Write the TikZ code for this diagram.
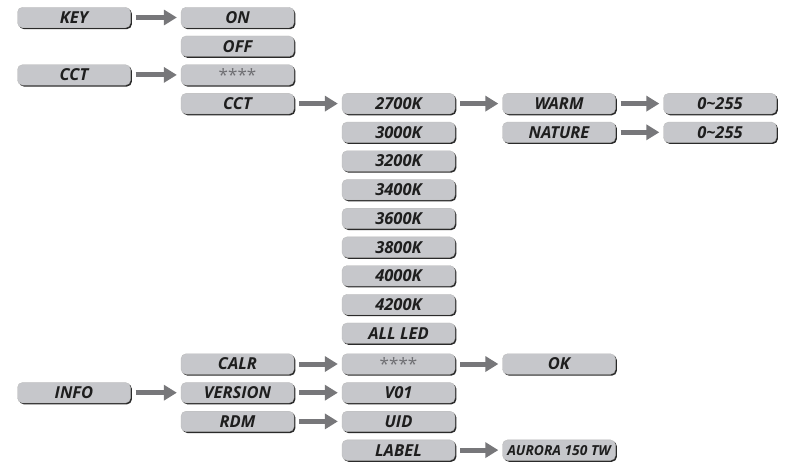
\documentclass[tikz,border=0pt]{standalone}
\usepackage{fontspec}
\setmainfont{Open Sans}
\usetikzlibrary{arrows.meta}
\definecolor{boxfill}{HTML}{C6C7CB}
\definecolor{boxedge}{HTML}{2A2A2A}
\definecolor{arrgray}{HTML}{77777A}
\definecolor{txt}{HTML}{1E1E1E}
\definecolor{stargray}{HTML}{6E6E72}
\tikzset{
  menubox/.style={rectangle, rounded corners=5pt, minimum width=113pt, minimum height=20.5pt,
    inner sep=0pt, fill=boxfill, draw=gray!55, line width=0.3pt, text=txt,
    font=\fontsize{16.5}{17}\selectfont\bfseries\itshape,
    preaction={fill=boxedge, transform canvas={shift={(1.4pt,-1.4pt)}}}},
  stars/.style={font=\fontsize{17}{17}\selectfont\normalfont\rmfamily, text=stargray},
  arr/.style={draw=arrgray, line width=5pt, -{Triangle[length=13pt,width=15pt]},
    shorten <=5pt, shorten >=4pt}
}
\begin{document}
\begin{tikzpicture}[x=1pt,y=-1pt]
\useasboundingbox (0,0) rectangle (786,464);
\def\cA{74}\def\cB{237.5}\def\cC{398.5}\def\cD{559}\def\cE{720}
% column 1
\node[menubox] (key) at (\cA,17.5) {KEY};
\node[menubox] (cct) at (\cA,74.9) {CCT};
\node[menubox] (info) at (\cA,392.7) {INFO};
% column 2
\node[menubox] (on) at (\cB,17.5) {ON};
\node[menubox] (off) at (\cB,46.2) {OFF};
\node[menubox, stars] (pw) at (\cB,74.9) {****};
\node[menubox] (cct2) at (\cB,103.6) {CCT};
\node[menubox] (calr) at (\cB,364) {CALR};
\node[menubox] (ver) at (\cB,392.7) {VERSION};
\node[menubox] (rdm) at (\cB,421.4) {RDM};
% column 3
\node[menubox] (k27) at (\cC,103.6) {2700K};
\node[menubox] (k30) at (\cC,132.3) {3000K};
\node[menubox] (k32) at (\cC,161) {3200K};
\node[menubox] (k34) at (\cC,189.7) {3400K};
\node[menubox] (k36) at (\cC,218.4) {3600K};
\node[menubox] (k38) at (\cC,247.1) {3800K};
\node[menubox] (k40) at (\cC,275.8) {4000K};
\node[menubox] (k42) at (\cC,304.5) {4200K};
\node[menubox] (all) at (\cC,333.2) {ALL LED};
\node[menubox, stars] (pw2) at (\cC,364) {****};
\node[menubox] (v01) at (\cC,392.7) {V01};
\node[menubox] (uid) at (\cC,421.4) {UID};
\node[menubox] (label) at (\cC,450.1) {LABEL};
% column 4
\node[menubox] (warm) at (\cD,103.6) {WARM};
\node[menubox] (nat) at (\cD,132.3) {NATURE};
\node[menubox] (ok) at (\cD,364) {OK};
\node[menubox, font=\fontsize{13.8}{14}\selectfont\bfseries\itshape] (aur) at (\cD,450.1) {AURORA 150 TW};
% column 5
\node[menubox] (wv) at (\cE,103.6) {0\char`\~255};
\node[menubox] (nv) at (\cE,132.3) {0\char`\~255};
% arrows
\draw[arr] (key) -- (on);
\draw[arr] (cct) -- (pw);
\draw[arr] (info) -- (ver);
\draw[arr] (cct2) -- (k27);
\draw[arr] (calr) -- (pw2);
\draw[arr] (ver) -- (v01);
\draw[arr] (rdm) -- (uid);
\draw[arr] (k27) -- (warm);
\draw[arr] (pw2) -- (ok);
\draw[arr] (label) -- (aur);
\draw[arr] (warm) -- (wv);
\draw[arr] (nat) -- (nv);
\end{tikzpicture}
\end{document}
